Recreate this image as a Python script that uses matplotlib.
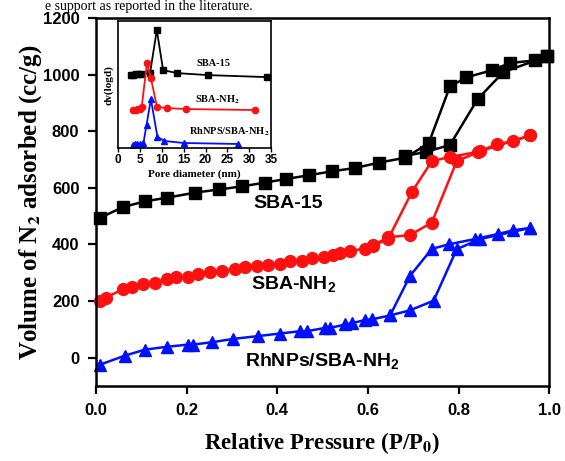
import matplotlib
matplotlib.use("Agg")
import matplotlib.pyplot as plt

plt.rcParams["mathtext.fontset"] = "custom"
plt.rcParams["mathtext.rm"] = "Liberation Sans:bold"
plt.rcParams["mathtext.bf"] = "Liberation Sans:bold"

# N2 isotherms, adsorption and desorption branches (P/P0, cc/g)
sba15_ads_x = [0.009, 0.06, 0.108, 0.157, 0.219, 0.272, 0.322, 0.372, 0.419, 0.469,
               0.520, 0.572, 0.625, 0.682, 0.734, 0.781, 0.817, 0.873, 0.914, 0.969, 0.995]
sba15_ads_y = [494, 532, 552, 565, 583, 594, 605, 618, 631, 644,
               658, 670, 689, 706, 757, 958, 990, 1015, 1041, 1050, 1064]
sba15_des_x = [0.995, 0.899, 0.842, 0.781, 0.728, 0.682]
sba15_des_y = [1064, 1009, 913, 751, 727, 712]

nh2_ads_x = [0.009, 0.022, 0.06, 0.079, 0.104, 0.130, 0.156, 0.177, 0.204, 0.226,
             0.252, 0.277, 0.307, 0.329, 0.355, 0.380, 0.406, 0.428, 0.454, 0.476,
             0.502, 0.524, 0.539, 0.561, 0.594, 0.612, 0.645, 0.697, 0.741, 0.781,
             0.844, 0.884, 0.921, 0.958]
nh2_ads_y = [200, 212, 242, 251, 259, 265, 277, 285, 285, 295,
             301, 307, 313, 319, 322, 327, 330, 342, 342, 352,
             356, 362, 369, 378, 384, 395, 420, 585, 694, 709,
             727, 754, 765, 785]
nh2_des_x = [0.958, 0.848, 0.796, 0.741, 0.693, 0.645, 0.612]
nh2_des_y = [785, 729, 694, 477, 433, 425, 398]

rh_ads_x = [0.009, 0.064, 0.108, 0.156, 0.204, 0.215, 0.255, 0.303, 0.358, 0.406,
            0.450, 0.465, 0.506, 0.517, 0.550, 0.564, 0.594, 0.609, 0.649, 0.693,
            0.741, 0.778, 0.837, 0.888, 0.921, 0.958]
rh_ads_y = [-25, 7, 28, 38, 46, 46, 54, 66, 76, 85,
            93, 93, 105, 105, 117, 121, 133, 135, 149, 289,
            384, 400, 419, 437, 450, 458]
rh_des_x = [0.958, 0.848, 0.796, 0.745, 0.693, 0.649]
rh_des_y = [458, 419, 383, 201, 167, 149]

# pore size distribution for the inset (arbitrary units)
psd_sba15_x = [2.9, 3.5, 4.0, 4.6, 5.2, 7.3, 8.85, 10.3, 13.5, 20.6, 34.0]
psd_sba15_y = [73, 73, 74, 74, 74, 75, 118, 78, 75, 73, 71]
psd_nh2_x = [3.5, 4.0, 4.5, 5.0, 5.4, 6.6, 7.5, 8.9, 11.1, 15.6, 31.4]
psd_nh2_y = [38, 38, 39, 39, 41, 85, 70, 41, 40, 39, 38]
psd_rh_x = [3.3, 3.8, 4.3, 5.0, 5.8, 6.5, 7.5, 9.0, 10.6, 15.0, 27.3]
psd_rh_y = [3, 4, 4, 4, 5, 23, 49, 11, 7, 5, 4]

sans = "Liberation Sans"
serif = "Liberation Serif"

fig = plt.figure(figsize=(5.65, 4.61), dpi=100)
ax = fig.add_axes([0.170, 0.163, 0.802, 0.798])

series = [
    (sba15_ads_x, sba15_ads_y, sba15_des_x, sba15_des_y, "black", "s"),
    (nh2_ads_x, nh2_ads_y, nh2_des_x, nh2_des_y, "#ff1010", "o"),
    (rh_ads_x, rh_ads_y, rh_des_x, rh_des_y, "#0010ff", "^"),
]
for ax_x, ax_y, de_x, de_y, col, mk in series:
    ax.plot(ax_x, ax_y, color=col, marker=mk, ms=8.5, lw=1.8, clip_on=False)
    ax.plot(de_x, de_y, color=col, marker=mk, ms=8.5, lw=1.8, clip_on=False)

ax.set_xlim(0, 1.0)
ax.set_ylim(-100, 1200)
ax.set_xticks([0.0, 0.2, 0.4, 0.6, 0.8, 1.0])
ax.set_yticks([0, 200, 400, 600, 800, 1000, 1200])
ax.tick_params(direction="out", length=6, width=1.6, pad=6)
for lab in ax.get_xticklabels() + ax.get_yticklabels():
    lab.set_fontfamily(sans)
    lab.set_fontweight("bold")
    lab.set_fontsize(12)
for sp in ax.spines.values():
    sp.set_linewidth(1.8)

ax.set_xlabel("Relative Pressure (P/P$\\mathbf{_0}$)", fontfamily=serif, fontweight="bold",
              fontsize=16.5, labelpad=9, math_fontfamily="stix")
ax.set_ylabel("Volume of N$\\mathbf{_2}$ adsorbed (cc/g)", fontfamily=serif,
              fontweight="bold", fontsize=18, labelpad=-1, math_fontfamily="stix")

ax.text(0.424, 543, "SBA-15", fontfamily=sans, fontweight="bold", fontsize=14,
        ha="center", va="center")
ax.text(0.435, 258, "SBA-NH$_2$", fontfamily=sans, fontweight="bold", fontsize=14,
        ha="center", va="center")
ax.text(0.50, -14, "RhNPs/SBA-NH$_2$", fontfamily=sans, fontweight="bold", fontsize=14,
        ha="center", va="center")

# inset: pore size distribution
ins = fig.add_axes([0.209, 0.679, 0.271, 0.275])
ins.plot(psd_sba15_x, psd_sba15_y, color="black", marker="s", ms=4, lw=1.3)
ins.plot(psd_nh2_x, psd_nh2_y, color="#ff1010", marker="o", ms=4.5, lw=1.3)
ins.plot(psd_rh_x, psd_rh_y, color="#0010ff", marker="^", ms=4.5, lw=1.3)
ins.set_xlim(0, 35)
ins.set_ylim(0, 127)
ins.set_xticks(range(0, 36, 5))
ins.set_yticks([])
ins.tick_params(direction="out", length=3, width=1, pad=1.5)
for lab in ins.get_xticklabels():
    lab.set_fontfamily(sans)
    lab.set_fontweight("bold")
    lab.set_fontsize(8.5)
for sp in ins.spines.values():
    sp.set_linewidth(1.2)
ins.set_xlabel("Pore diameter (nm)", fontfamily=serif, fontweight="bold", fontsize=8,
               labelpad=2)
ins.set_ylabel("dv(logd)", fontfamily=serif, fontweight="bold", fontsize=8, labelpad=3)
ins.text(21.7, 85, "SBA-15", fontfamily=serif, fontweight="bold", fontsize=7.5,
         ha="center", va="center")
ins.text(22.7, 48, "SBA-NH$\\mathbf{_2}$", fontfamily=serif, fontweight="bold",
         fontsize=7.5, ha="center", va="center", math_fontfamily="stix")
ins.text(25.5, 16, "RhNPS/SBA-NH$\\mathbf{_2}$", fontfamily=serif, fontweight="bold",
         fontsize=7.5, ha="center", va="center", math_fontfamily="stix")

# line of body text above the figure
fig.text(0.08, 0.999, "e support as reported in the literature.", fontfamily=serif,
         fontsize=10, ha="left", va="top")

fig.savefig("out.png", dpi=100)
